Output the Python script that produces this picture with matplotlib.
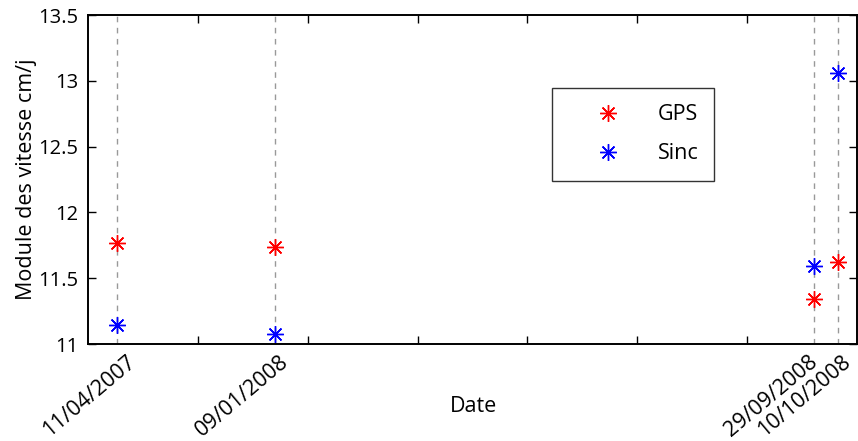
import matplotlib
matplotlib.use("Agg")
import matplotlib.pyplot as plt
import matplotlib.transforms as mtransforms

plt.rcParams["font.family"] = ["Open Sans", "DejaVu Sans"]

# x positions on the plot axis (axis runs 0..350)
x_pos = [13.1, 85.0, 330.3, 341.2]
date_labels = ["11/04/2007", "09/01/2008", "29/09/2008", "10/10/2008"]
gps = [11.767, 11.735, 11.344, 11.620]
sinc = [11.142, 11.078, 11.593, 13.057]

fig = plt.figure(figsize=(8.58, 4.41), dpi=100)
ax = fig.add_axes([88 / 858, 1 - 344 / 441, (857 - 88) / 858, (344 - 15) / 441])

for xv in x_pos:
    ax.axvline(xv, color="#999999", lw=1, ls=(0, (4, 4)), zorder=1)

star = (8, 2, 0)
ax.plot(x_pos, gps, ls="none", marker=star, ms=12, mew=1, color="red", label="GPS", zorder=3)
ax.plot(x_pos, sinc, ls="none", marker=star, ms=12, mew=1, color="blue", label="Sinc", zorder=3)

ax.set_xlim(0, 350)
ax.set_ylim(11, 13.5)
ax.set_yticks([11, 11.5, 12, 12.5, 13, 13.5])
ax.set_yticklabels(["11", "11.5", "12", "12.5", "13", "13.5"])

# regular ticks without labels, date labels without tick marks
ax.set_xticks([50, 100, 150, 200, 250, 300])
ax.set_xticklabels([])
ax.set_xticks(x_pos, minor=True)
ax.set_xticklabels(date_labels, minor=True, rotation=40, ha="right",
                   va="center", rotation_mode="anchor", fontsize=15.5)
ax.tick_params(axis="x", which="minor", length=0, pad=0)
ax.tick_params(axis="x", which="major", direction="in", top=True, length=6, width=1)
ax.tick_params(axis="y", direction="in", right=True, length=6, width=1, labelsize=14.5, pad=7)

# shift the rotated labels like the original layout (pixels)
shifts = [(16, -15), (11, -15), (1, -15), (10, -15)]
for lab, (dx, dy) in zip(ax.get_xticklabels(minor=True), shifts):
    offset = mtransforms.ScaledTranslation(dx / 100, dy / 100, fig.dpi_scale_trans)
    lab.set_transform(lab.get_transform() + offset)

for s in ax.spines.values():
    s.set_linewidth(1.4)

ax.set_ylabel("Module des vitesse cm/j", fontsize=15.5, labelpad=1)
ax.set_xlabel("Date", fontsize=15.5)
ax.xaxis.set_label_coords((474 - 88) / (857 - 88), -(396 - 344) / (344 - 15))

leg = ax.legend(loc="upper left", bbox_to_anchor=((552 - 88) / 769, 1 - (88 - 15) / 329),
                fontsize=15.5, frameon=True, fancybox=False, edgecolor="black",
                borderpad=0.75, labelspacing=0.85, handlelength=3.7, handletextpad=0.45,
                borderaxespad=0)
leg.get_frame().set_linewidth(1)

fig.savefig("out.png", dpi=100)
